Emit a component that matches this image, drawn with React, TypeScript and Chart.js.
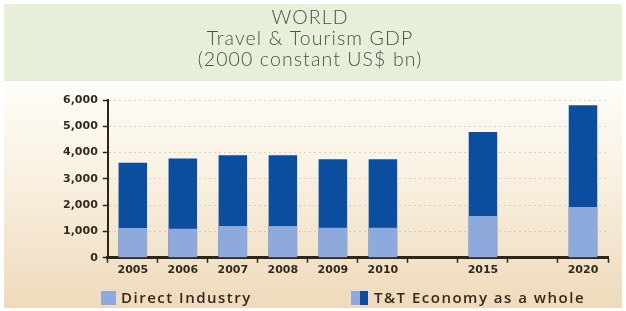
import React, { useEffect, useRef } from "react";
import { Chart, registerables } from "chart.js";

Chart.register(...registerables);

const categories = ["2005", "2006", "2007", "2008", "2009", "2010", "", "2015", "", "2020"];
const directIndustry = [1130, 1105, 1205, 1205, 1145, 1145, null, 1590, null, 1930];
const economyWhole = [3610, 3775, 3900, 3900, 3750, 3750, null, 4780, null, 5800];
const seriesNames = ["Direct Industry", "T&T Economy as a whole"];
const titleLines = ["WORLD", "Travel & Tourism GDP", "(2000 constant US$ bn)"];
const yMin = 0;
const yMax = 6000;
const yStep = 1000;

const LIGHT = "#8ea9db";
const DARK = "#0b4d9e";
const AXIS = "#2e2519";
const TEXT = "#33291c";

const bgPlugin = {
  id: "bgPanels",
  beforeDraw(chart: any) {
    const { ctx, width, height } = chart;
    ctx.save();
    ctx.fillStyle = "#ffffff";
    ctx.fillRect(0, 0, width, height);
    ctx.fillStyle = "#e7efd9";
    ctx.fillRect(4, 4, width - 8, 77);
    const g = ctx.createLinearGradient(0, 83, 0, height - 3);
    g.addColorStop(0, "#fefdf8");
    g.addColorStop(0.4, "#f9f1e2");
    g.addColorStop(1, "#eedabb");
    ctx.fillStyle = g;
    ctx.fillRect(4, 83, width - 8, height - 86);
    // title
    ctx.fillStyle = "#4e4e4c";
    ctx.font = "300 19.5px Lato";
    (ctx as any).letterSpacing = "1.1px";
    ctx.textAlign = "center";
    ctx.textBaseline = "middle";
    const lines = chart.options.plugins.customTitle.lines as string[];
    lines.forEach((t: string, i: number) => {
      ctx.fillText(t, width / 2 - 3, 18 + i * 20.7);
    });
    ctx.restore();
  },
};

const legendPlugin = {
  id: "customLegend",
  afterDraw(chart: any) {
    const { ctx } = chart;
    const ds = chart.data.datasets;
    const y = 298;
    ctx.save();
    ctx.font = "600 15px 'Open Sans'";
    (ctx as any).letterSpacing = "1.5px";
    ctx.textBaseline = "middle";
    ctx.textAlign = "left";
    // item 1
    const x1 = 101;
    ctx.fillStyle = ds[0].backgroundColor;
    ctx.fillRect(x1, y - 7, 15, 14);
    ctx.fillStyle = TEXT;
    ctx.fillText(ds[0].label, x1 + 20, y + 1);
    // item 2
    const x2 = 351;
    ctx.fillStyle = ds[0].backgroundColor;
    ctx.fillRect(x2, y - 7, 9, 14);
    ctx.fillStyle = ds[1].backgroundColor;
    ctx.fillRect(x2 + 9, y - 7, 8, 14);
    ctx.fillStyle = TEXT;
    ctx.fillText(ds[1].label, x2 + 23, y + 1);
    ctx.restore();
  },
};

export default function App() {
  const ref = useRef<HTMLCanvasElement | null>(null);

  useEffect(() => {
    if (!ref.current) return;
    const chart = new Chart(ref.current, {
      type: "bar",
      data: {
        labels: categories,
        datasets: [
          {
            label: seriesNames[0],
            data: directIndustry,
            backgroundColor: LIGHT,
            grouped: false,
            categoryPercentage: 1,
            barPercentage: 0.57,
          } as any,
          {
            label: seriesNames[1],
            data: economyWhole,
            backgroundColor: DARK,
            grouped: false,
            categoryPercentage: 1,
            barPercentage: 0.57,
          } as any,
        ],
      },
      options: {
        responsive: false,
        animation: false,
        devicePixelRatio: 1,
        layout: { padding: { left: 58, right: 18, top: 100, bottom: 33 } },
        plugins: {
          legend: { display: false },
          tooltip: { enabled: false },
          title: { display: false },
          customTitle: { lines: titleLines },
        } as any,
        scales: {
          x: {
            offset: true,
            grid: {
              offset: true,
              drawOnChartArea: false,
              drawTicks: true,
              tickLength: 5,
              tickColor: AXIS,
              tickWidth: 1.5,
            },
            border: { color: AXIS, width: 3 },
            ticks: {
              color: TEXT,
              font: { family: "DejaVu Sans", size: 11, weight: "bold" },
              padding: 1,
              autoSkip: false,
              maxRotation: 0,
            },
          },
          y: {
            min: yMin,
            max: yMax,
            grid: {
              color: "rgba(185,170,145,0.45)",
              lineWidth: 1,
              tickLength: 5,
              tickColor: AXIS,
              tickWidth: 1.5,
            },
            border: { color: AXIS, width: 2, dash: [2, 3] },
            ticks: {
              stepSize: yStep,
              color: TEXT,
              padding: 5,
              font: { family: "DejaVu Sans", size: 11, weight: "bold" },
              callback: (v: any) => Number(v).toLocaleString("en-US"),
            },
          },
        },
      },
      plugins: [bgPlugin, legendPlugin],
    });
    return () => chart.destroy();
  }, []);

  return (
    <div style={{ position: "absolute", left: 0, top: 0, width: 626, height: 311 }}>
      <canvas ref={ref} width={626} height={311} />
    </div>
  );
}
